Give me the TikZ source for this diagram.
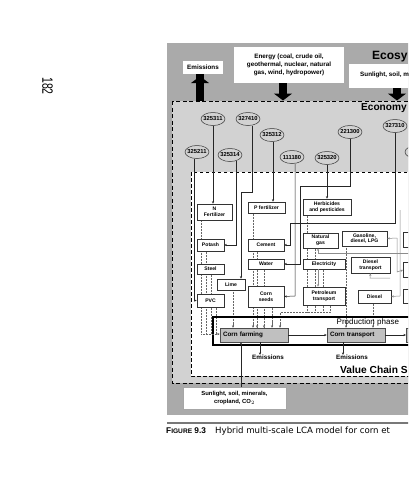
\documentclass[tikz,border=0pt]{standalone}
\usepackage{fontspec}
\setmainfont{Liberation Sans}
\newfontfamily\capfont{DejaVu Sans}
\usetikzlibrary{arrows.meta,shapes.geometric,calc}
\definecolor{ecogray}{RGB}{170,170,170}
\definecolor{econgray}{RGB}{210,210,210}
\definecolor{boxgray}{RGB}{192,192,192}
\definecolor{capline}{RGB}{120,120,120}
\begin{document}
\begin{tikzpicture}[x=1pt,y=-1pt,
 vbox/.style={draw=black!80, fill=white, line width=0.5pt, inner sep=0pt, align=center, font=\bfseries\fontsize{5.1}{5.8}\selectfont},
 code/.style={ellipse, draw=black!80, line width=0.5pt, minimum width=24pt, minimum height=13pt, inner xsep=-2.5pt, inner ysep=0pt, font=\bfseries\fontsize{5.8}{6}\selectfont},
 feed/.style={draw=black!85, line width=0.5pt, -{Stealth[length=2.6pt,width=2.2pt]}},
 gfeed/.style={draw=black!45, line width=0.5pt, -{Stealth[length=2.6pt,width=2.2pt]}},
 flow/.style={draw=black!60, densely dotted, line width=0.5pt},
 flowarr/.style={flow, -{Stealth[length=2.6pt,width=2.2pt]}},
 bigarrow/.style={line width=8pt, -{Triangle[width=18pt,length=7pt]}},
 topbox/.style={fill=white, inner sep=0pt, align=center, font=\bfseries\fontsize{6.3}{7.8}\selectfont},
 cbox/.style={draw=black!70, fill=boxgray, line width=0.5pt, inner sep=0pt, minimum height=14pt, font=\bfseries\fontsize{6.3}{7}\selectfont},
 lbl/.style={inner sep=0pt, font=\bfseries\fontsize{6.3}{7}\selectfont},
 scalelbl/.style={inner sep=0pt, anchor=west, font=\bfseries\fontsize{10.5}{12}\selectfont}
]
\useasboundingbox (0,0) rectangle (408,480);
\clip (0,0) rectangle (408,480);
\fill[white] (0,0) rectangle (408,480);

% page number
\node[rotate=-90, inner sep=0pt, font=\fontsize{15}{16}\selectfont] (pageno) at (47.5,86) {\scalebox{0.7}[1]{182}};

% ecosystem scale
\fill[ecogray] (167,43) rectangle (430,415);
\node[scalelbl, font=\bfseries\fontsize{12}{13}\selectfont] (ecolbl) at (372,57) {Ecosy};

% economy scale
\draw[line width=1pt, dash pattern=on 4pt off 2.5pt, fill=econgray] (172,101) rectangle (440,383);
\node[scalelbl, font=\bfseries\fontsize{10.1}{12}\selectfont] (econlbl) at (361,108.5) {Economy};

% top boxes and arrows
\node[topbox, minimum width=40pt, minimum height=13pt] (emtop) at (203,67.5) {Emissions};
\node[topbox, minimum width=110pt, minimum height=36pt] (energy) at (289,65) {Energy (coal, crude oil,\\geothermal, nuclear, natural\\gas, wind, hydropower)};
\fill[white] (349,64) rectangle (430,88);
\node[inner sep=0pt, anchor=west, font=\bfseries\fontsize{6.3}{7.8}\selectfont] (suntop) at (360,74.5) {Sunlight, soil, m};
\coordinate (econtopA) at (200,100.5);
\coordinate (econtopB) at (283,100.5);
\coordinate (econtopC) at (397,100.5);
\coordinate (sunbottom) at (397,88);
\draw[bigarrow] (econtopA) -- (emtop.south -| econtopA) ++(0,2);
\draw[bigarrow] (energy.south -| econtopB) -- (econtopB);
\draw[bigarrow] (sunbottom) -- (econtopC);

% value chain scale
\draw[line width=0.9pt, dash pattern=on 3.5pt off 2.5pt, fill=white] (191,172) rectangle (440,376);
\node[scalelbl, font=\bfseries\fontsize{10.2}{12}\selectfont] (vclbl) at (340,370) {Value Chain S};

% code ellipses
\node[code] (c325311) at (213,119) {325311};
\node[code] (c327410) at (248,119) {327410};
\node[code] (c325312) at (272,135) {325312};
\node[code] (c325211) at (197,152) {325211};
\node[code] (c325314) at (230,155) {325314};
\node[code] (c111180) at (292,157) {111180};
\node[code] (c325320) at (327,158) {325320};
\node[code] (c221300) at (350,132) {221300};
\node[code] (c327310) at (395,126) {327310};
\node[code] (cright) at (417,152) {};

% dotted flows (drawn before boxes)
\coordinate (cfin) at (201,334);
\draw[flow] (201,218) -- (cfin);
\draw[flow] (206,250) -- (206,334);
\draw[flow] (211,273) -- (211,334);
\draw[flow] (216,306) -- (216,334);
\draw[flow] (233,290) -- (233,327);
\draw[flow] (253,212) -- (253,327);
\draw[flow] (257,250) -- (257,327);
\draw[flow] (264,268) -- (264,327);
\draw[flow] (272,306) -- (272,327);
\draw[flow] (307,214) -- (307,312);
\draw[flow] (315,247) -- (315,312);
\draw[flow] (323,268) -- (323,312);
\draw[flow] (330,304) -- (330,312) -- (280,312) -- (280,327);
\draw[flow] (346,246) -- (346,327);
\draw[flow] (373,302) -- (373,327);

% value chain boxes
\node[vbox, minimum width=35pt, minimum height=16pt] (nfert) at (214.5,212) {N\\Fertilizer};
\node[vbox, minimum width=37pt, minimum height=11pt] (pfert) at (266.5,207.5) {P fertilizer};
\node[vbox, minimum width=48pt, minimum height=16pt] (herb) at (327,207) {Herbicides\\and pesticides};
\node[vbox, minimum width=27pt, minimum height=12pt] (potash) at (210.5,245) {Potash};
\node[vbox, minimum width=36pt, minimum height=12pt] (cement) at (266,245) {Cement};
\node[vbox, minimum width=35pt, minimum height=15pt] (natgas) at (320.5,240.5) {Natural\\gas};
\node[vbox, minimum width=45pt, minimum height=15pt] (gasol) at (364.5,238.5) {Gasoline,\\diesel, LPG};
\node[vbox, minimum width=27pt, minimum height=10pt] (steel) at (210.5,269) {Steel};
\node[vbox, minimum width=36pt, minimum height=10pt] (water) at (266,264) {Water};
\node[vbox, minimum width=42pt, minimum height=10pt] (elec) at (324,264) {Electricity};
\node[vbox, minimum width=39pt, minimum height=16pt] (dtrans) at (370.5,265) {Diesel\\transport};
\node[vbox, minimum width=28pt, minimum height=11pt] (lime) at (231,284.5) {Lime};
\node[vbox, minimum width=36pt, minimum height=21pt] (cseeds) at (266,296.5) {Corn\\seeds};
\node[vbox, minimum width=42pt, minimum height=18pt] (ptrans) at (324,296) {Petroleum\\transport};
\node[vbox, minimum width=33pt, minimum height=13pt] (diesel) at (374.5,296.5) {Diesel};
\node[vbox, minimum width=27pt, minimum height=13pt] (pvc) at (210.5,300.5) {PVC};
\node[vbox, minimum width=40pt, minimum height=15pt, anchor=west] (rbox1) at (403,240) {};
\node[vbox, minimum width=40pt, minimum height=15pt, anchor=west] (rbox2) at (403,270) {};
\node[vbox, minimum width=40pt, minimum height=14pt, anchor=west] (rbox3) at (403,296) {};

% feeds from the economy codes
\draw[feed] (c325311.south) -- (nfert.north -| c325311.south);
\draw[feed] (c325211.south -| 194,0) -- (194,300.5) -- (pvc.west);
\draw[feed] (236,161) -- (236,245) -- (potash.east);
\draw[feed] (252,125.5) -- (252,192) -- (241,192) -- (lime.north -| 241,0);
\draw[feed] (273,141.5) -- (pfert.north -| 273,0);
\draw[feed] (c111180.south -| 295,0) -- (295,296) -- (cseeds.east);
\draw[feed] (c325320.south) -- (herb.north);
\draw[feed] (c221300.south) -- (350,186) -- (300,186) -- (300,264) -- (water.east);
\draw[feed] (c327310.south) -- (395,223) -- (290,223) -- (290,245) -- (cement.east);

% other value chain links
\draw[gfeed] (420,253) -- (318,253) -- (natgas.south -| 318,0);
\draw[gfeed] (elec.south -| 318,0) -- (ptrans.north -| 318,0);
\draw[gfeed] (397,238) -- (gasol.east);
\draw[gfeed] (390,278) -- (370,278) -- (dtrans.south);
\draw[gfeed] (400,210) -- (400,296) -- (diesel.east);
\draw[gfeed] (397,238) -- (397,272) -- (rbox2.west);

% production phase
\draw[line width=2pt] (213,317) rectangle (450,345);
\node[inner sep=0pt, anchor=west, font=\fontsize{8}{9}\selectfont] (prodlbl) at (336.5,322) {Production phase};
\node[cbox, minimum width=68pt, text width=62pt, align=left] (cfarm) at (254,335) {Corn farming};
\node[cbox, minimum width=58pt, text width=52pt, align=left] (ctrans) at (356,335) {Corn transport};
\node[cbox, minimum width=60pt, anchor=west] (cnext) at (406,335) {};
\draw[feed] (cfarm) -- (ctrans);
\draw[feed] (ctrans) -- (cnext);
\draw[flowarr] (cfin) -- (cfarm.west |- cfin);
\foreach \xx in {233,253,257,264,272,280} { \draw[flowarr] (\xx,322) -- (\xx,327.8); }
\foreach \xx in {346,373} { \draw[flowarr] (\xx,322) -- (\xx,327.8); }

% emissions
\node[lbl] (em1) at (268,357.5) {Emissions};
\node[lbl] (em2) at (352,357.5) {Emissions};
\draw[feed] (cfarm.south -| 260,0) -- (em1.north -| 260,0);
\draw[feed] (ctrans.south -| 343,0) -- (em2.north -| 343,0);

% bottom ecosystem input
\node[fill=white, draw=black!35, line width=0.4pt, minimum width=103pt, minimum height=22pt, inner sep=0pt, align=center, font=\bfseries\fontsize{5.9}{7.6}\selectfont] (sunbot) at (234.5,398) {Sunlight, soil, minerals,\\cropland, CO$_2$};
\draw[feed] (sunbot.north -| 241,0) -- (cfarm.south -| 241,0);

% caption
\draw[capline, line width=1.2pt] (167,423) -- (430,423);
\node[inner sep=0pt, anchor=west, font=\fontsize{8.3}{9}\selectfont] (capnum) at (166,431) {\bfseries F{\fontsize{6.6}{7}\selectfont IGURE} 9.3};
\node[inner sep=0pt, anchor=west, font=\capfont\fontsize{8.6}{9}\selectfont] (caption) at (215,431) {Hybrid multi-scale LCA model for corn et};
\end{tikzpicture}
\end{document}
